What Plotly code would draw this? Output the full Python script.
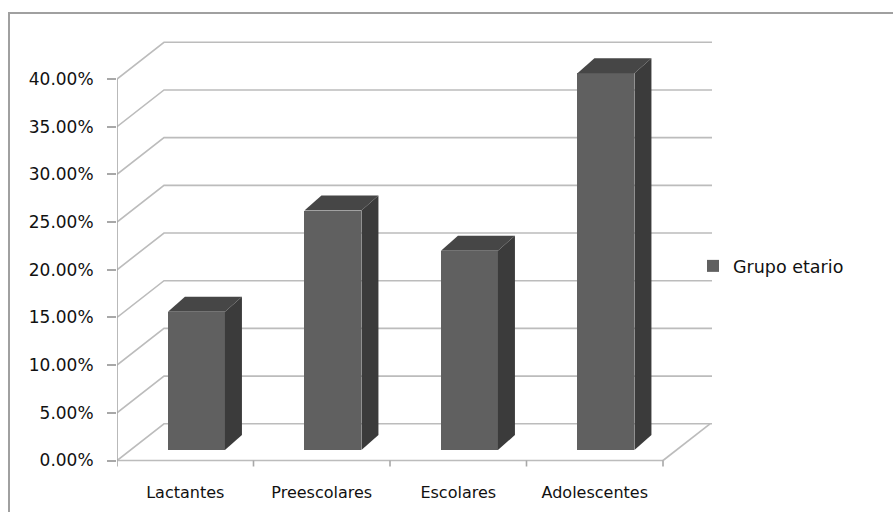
import plotly.graph_objects as go

# ---- data ----
categories = ["Lactantes", "Preescolares", "Escolares", "Adolescentes"]
values = [0.145, 0.251, 0.209, 0.395]
y_ticks = [0.0, 0.05, 0.10, 0.15, 0.20, 0.25, 0.30, 0.35, 0.40]
series_name = "Grupo etario"

# ---- layout geometry (pixels) ----
W, H = 893, 512
L_PX, R_PX = 117, 712
T_PX, B_PX = 38, 472
Y0_PX = 460.5
PX_PER_CAT = 136.5
PX_PER_UNIT = 953.75

x_range = [0, (R_PX - L_PX) / PX_PER_CAT]
y_range = [(Y0_PX - B_PX) / PX_PER_UNIT, (Y0_PX - T_PX) / PX_PER_UNIT]

# depth of floor / walls (data units)
DX_WALL = 47 / PX_PER_CAT
DY_WALL = 0.0385
# bars
BAR_W = 57 / PX_PER_CAT
BAR_SHIFT_X = 0.082
BAR_BASE = 0.011
BAR_DX = 17 / PX_PER_CAT
BAR_DY = 15 / PX_PER_UNIT

FRONT = "#606060"
TOP = "#464646"
SIDE = "#3b3b3b"
GRID = "#bcbcbc"
AXIS = "#a8a8a8"
FONT = "DejaVu Sans"
TXT = "#111111"

n = len(categories)
xc = [i + 0.5 + BAR_SHIFT_X for i in range(n)]

fig = go.Figure()
fig.add_trace(go.Bar(
    x=xc, y=values, base=[BAR_BASE] * n, width=BAR_W,
    marker=dict(color=FRONT, line=dict(width=0)),
    name=series_name, showlegend=True, hoverinfo="skip",
))

# side and top faces computed from values
for i, v in enumerate(values):
    xl = xc[i] - BAR_W / 2
    xr = xc[i] + BAR_W / 2
    top = BAR_BASE + v
    fig.add_trace(go.Scatter(
        x=[xr, xr + BAR_DX, xr + BAR_DX, xr, xr],
        y=[BAR_BASE, BAR_BASE + BAR_DY, top + BAR_DY, top, BAR_BASE],
        fill="toself", fillcolor=SIDE, mode="lines",
        line=dict(width=0, color=SIDE), showlegend=False, hoverinfo="skip"))
    fig.add_trace(go.Scatter(
        x=[xl, xl + BAR_DX, xr + BAR_DX, xr, xl],
        y=[top, top + BAR_DY, top + BAR_DY, top, top],
        fill="toself", fillcolor=TOP, mode="lines",
        line=dict(width=0, color=TOP), showlegend=False, hoverinfo="skip"))

shapes = []
x_end = x_range[1]
for v in y_ticks:
    shapes.append(dict(type="path", layer="below",
                       path=f"M 0,{v} L {DX_WALL},{v + DY_WALL} L {x_end},{v + DY_WALL}",
                       line=dict(color=GRID, width=1.6)))
# floor front and right edges
shapes.append(dict(type="line", layer="below", x0=0, y0=0, x1=n, y1=0,
                   line=dict(color=GRID, width=1.6)))
shapes.append(dict(type="line", layer="below", x0=n, y0=0, x1=n + DX_WALL, y1=DY_WALL,
                   line=dict(color=GRID, width=1.6)))
# value axis line
shapes.append(dict(type="line", layer="below", x0=0, y0=0, x1=0, y1=y_ticks[-1],
                   line=dict(color=AXIS, width=1.6)))
# category boundary ticks
tick_len = 6 / PX_PER_UNIT
for k in range(n + 1):
    shapes.append(dict(type="line", layer="below", x0=k, y0=0, x1=k, y1=-tick_len,
                       line=dict(color=AXIS, width=1.6)))
# outer frame (left & top visible)
plot_w = R_PX - L_PX
plot_h = B_PX - T_PX
shapes.append(dict(type="rect", xref="paper", yref="paper",
                   x0=(9 - L_PX) / plot_w, x1=(905 - L_PX) / plot_w,
                   y0=(B_PX - 525) / plot_h, y1=(B_PX - 13) / plot_h,
                   line=dict(color="#a0a0a0", width=2), fillcolor="rgba(0,0,0,0)"))

fig.update_layout(
    width=W, height=H, autosize=False,
    margin=dict(l=L_PX, r=W - R_PX, t=T_PX, b=H - B_PX, pad=0),
    paper_bgcolor="white", plot_bgcolor="white",
    font=dict(family=FONT, size=17, color=TXT),
    shapes=shapes,
    bargap=0,
    xaxis=dict(range=x_range, showgrid=False, zeroline=False, showline=False,
               automargin=False,
               tickmode="array", tickvals=[i + 0.5 for i in range(n)], ticktext=categories,
               ticks="outside", ticklen=6, tickcolor="rgba(0,0,0,0)",
               tickfont=dict(family=FONT, size=16, color=TXT)),
    yaxis=dict(range=y_range, showgrid=False, zeroline=False, showline=False,
               automargin=False,
               tickmode="array", tickvals=y_ticks, tickformat=".2%",
               ticks="outside", ticklen=9, tickcolor=AXIS, tickwidth=1.6,
               ticklabelstandoff=10,
               tickfont=dict(family=FONT, size=17, color=TXT)),
    legend=dict(x=(693 - L_PX) / plot_w, xanchor="left",
                y=(B_PX - 266) / plot_h, yanchor="middle",
                bgcolor="rgba(0,0,0,0)", borderwidth=0,
                font=dict(family=FONT, size=17.5, color=TXT)),
    showlegend=True,
)

fig.write_html("out.html")
